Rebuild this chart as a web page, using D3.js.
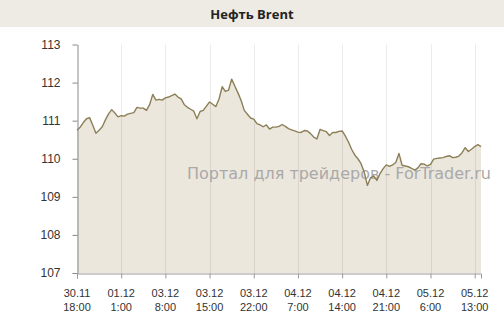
<!DOCTYPE html>
<html>
<head>
<meta charset="utf-8">
<script src="https://cdn.jsdelivr.net/npm/d3@7"></script>
<style>
  body { margin: 0; background: #fff; }
  svg { display: block; }
</style>
</head>
<body>
<svg id="svg"></svg>
<script>
// Brent price, half-hour steps
const prices = [
  110.75, 110.83, 110.95, 111.05, 111.08, 110.88, 110.67, 110.75, 110.84, 111.02,
  111.18, 111.29, 111.20, 111.10, 111.13, 111.12, 111.17, 111.19, 111.21, 111.35,
  111.33, 111.33, 111.27, 111.42, 111.69, 111.54, 111.56, 111.54, 111.60, 111.62,
  111.66, 111.70, 111.62, 111.57, 111.42, 111.35, 111.30, 111.25, 111.05, 111.24,
  111.27, 111.38, 111.49, 111.43, 111.37, 111.57, 111.89, 111.77, 111.80, 112.09,
  111.91, 111.73, 111.53, 111.27, 111.17, 111.07, 111.04, 110.92, 110.89, 110.84,
  110.89, 110.78, 110.83, 110.83, 110.85, 110.90, 110.85, 110.79, 110.76, 110.73,
  110.70, 110.69, 110.74, 110.73, 110.66, 110.57, 110.52, 110.77, 110.74, 110.71,
  110.61, 110.69, 110.69, 110.72, 110.73, 110.60, 110.44, 110.25, 110.10, 110.00,
  109.87, 109.65, 109.30, 109.50, 109.55, 109.43, 109.61, 109.74, 109.84, 109.80,
  109.84, 109.90, 110.14, 109.83, 109.81, 109.79, 109.75, 109.70, 109.76, 109.87,
  109.86, 109.81, 109.85, 109.99, 110.01, 110.02, 110.03, 110.06, 110.08, 110.03,
  110.04, 110.07, 110.16, 110.29, 110.19, 110.25, 110.32, 110.37, 110.32
];

// x tick labels, one every 14 points
const tickDates = ["30.11", "01.12", "03.12", "03.12", "03.12", "04.12", "04.12", "04.12", "05.12", "05.12"];
const tickTimes = ["18:00", "1:00", "8:00", "15:00", "22:00", "7:00", "14:00", "21:00", "6:00", "13:00"];
const yTicks = [107, 108, 109, 110, 111, 112, 113];

const width = 504;
const height = 324;

const svg = d3.select("#svg")
  .attr("width", width)
  .attr("height", height);

// title bar
svg.append("rect")
  .attr("width", width)
  .attr("height", 27)
  .attr("fill", "#eeebe4");

svg.append("text")
  .attr("x", 252)
  .attr("y", 19)
  .attr("text-anchor", "middle")
  .attr("font-family", "'Open Sans', sans-serif")
  .attr("font-size", 13)
  .attr("font-weight", "bold")
  .attr("fill", "#222")
  .text("Нефть Brent");

const x = d3.scaleLinear().domain([0, prices.length - 1]).range([77, 481]);
const y = d3.scaleLinear().domain([107, 113]).range([273, 44.5]);

const tickIdx = tickDates.map((d, i) => i * 14);

// area
const area = d3.area()
  .x((d, i) => x(i))
  .y0(y(107))
  .y1(d => y(d));

svg.append("path")
  .datum(prices)
  .attr("d", area)
  .attr("fill", "#ece7dd");

// vertical grid
svg.append("g")
  .selectAll("line")
  .data(tickIdx.slice(1))
  .enter()
  .append("line")
  .attr("x1", d => Math.round(x(d)) + 0.5)
  .attr("x2", d => Math.round(x(d)) + 0.5)
  .attr("y1", y(113))
  .attr("y2", y(107))
  .attr("stroke", "rgba(0,0,0,0.08)");

// watermark
svg.append("text")
  .attr("x", 187)
  .attr("y", 179)
  .attr("font-family", "'DejaVu Sans', sans-serif")
  .attr("font-size", 16)
  .attr("fill", "#a9a9a9")
  .attr("textLength", 304)
  .attr("lengthAdjust", "spacingAndGlyphs")
  .text("Портал для трейдеров - ForTrader.ru");

// price line
const line = d3.line()
  .x((d, i) => x(i))
  .y(d => y(d));

svg.append("path")
  .datum(prices)
  .attr("d", line)
  .attr("fill", "none")
  .attr("stroke", "#8c7f57")
  .attr("stroke-width", 1.4)
  .attr("stroke-linejoin", "round");

// y axis
const yAxis = svg.append("g")
  .attr("transform", "translate(77.5,0)")
  .call(d3.axisLeft(y).tickValues(yTicks).tickFormat(d3.format("d")).tickSize(5).tickSizeOuter(0).tickPadding(12));

yAxis.select(".domain").attr("stroke", "#888");
yAxis.selectAll(".tick line").attr("stroke", "#888");
yAxis.selectAll(".tick text")
  .attr("font-family", "'Liberation Sans', sans-serif")
  .attr("font-size", 12)
  .attr("fill", "#333");

// x axis
const xAxis = svg.append("g")
  .attr("transform", "translate(0,273.5)")
  .call(d3.axisBottom(x).tickValues(tickIdx).tickFormat("").tickSize(5).tickSizeOuter(5));

xAxis.select(".domain").attr("stroke", "#999");
xAxis.selectAll(".tick line").attr("stroke", "#999");

const xLabels = svg.append("g")
  .selectAll("text")
  .data(tickIdx)
  .enter()
  .append("text")
  .attr("x", d => x(d))
  .attr("text-anchor", "middle")
  .attr("font-family", "'Liberation Sans', sans-serif")
  .attr("font-size", 11)
  .attr("fill", "#333");

xLabels.append("tspan")
  .attr("x", d => x(d))
  .attr("y", 297)
  .text((d, i) => tickDates[i]);

xLabels.append("tspan")
  .attr("x", d => x(d))
  .attr("y", 311)
  .text((d, i) => tickTimes[i]);
</script>
</body>
</html>
